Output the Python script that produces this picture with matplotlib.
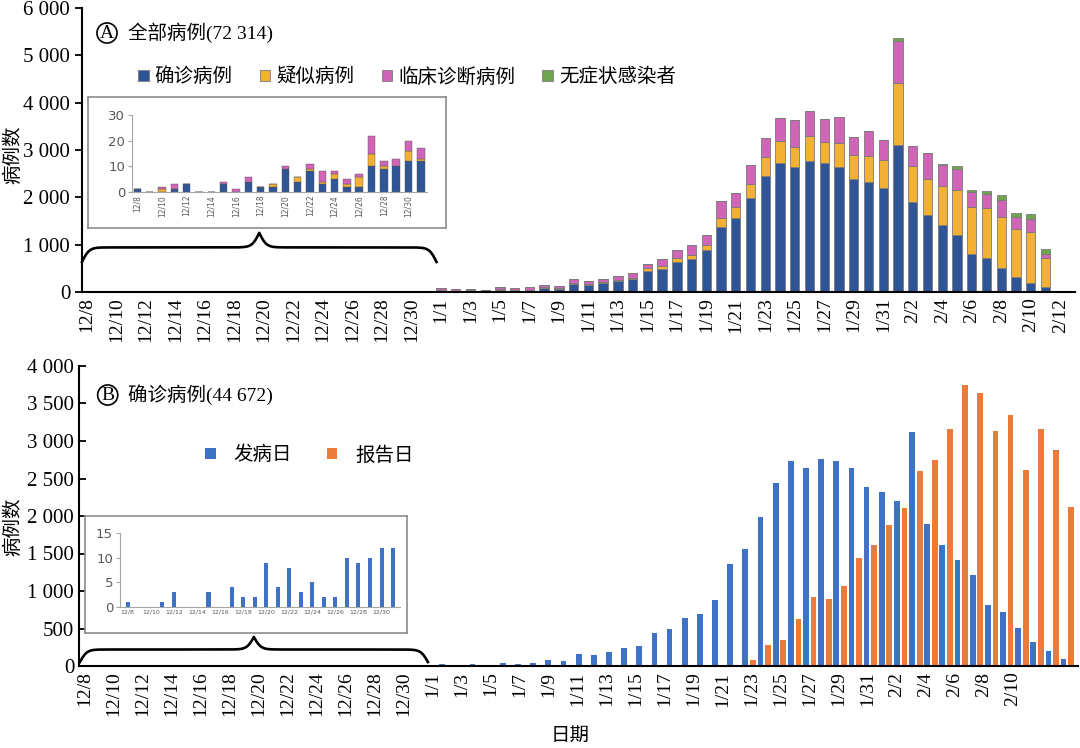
import matplotlib
matplotlib.use('Agg')
import matplotlib.pyplot as plt
import numpy as np
import pandas as pd

# dates 12/8 .. 2/12 (data runs to 2/11)
days = pd.date_range('2019-12-08', '2020-02-12')
day_labels = [f'{d.month}/{d.day}' for d in days]

# panel A: all cases by onset date
confirmed = [1, 0, 0, 1, 3, 0, 0, 3, 0, 4, 2, 2, 9, 4, 8, 3, 5, 2, 2, 10, 9, 10, 12, 12,
             27, 18, 27, 18, 44, 27, 40, 84, 71, 160, 147, 182, 235, 266, 435, 493, 644, 688, 880, 1363,
             1555, 1990, 2445, 2730, 2640, 2765, 2730, 2640, 2390, 2320, 2195,
             3115, 1900, 1620, 1410, 1210, 810, 720, 510, 325, 195, 98]
suspected = [0, 0, 1, 0, 0, 0, 0, 0, 0, 0, 0, 1, 0, 2, 1, 1, 2, 1, 4, 5, 1, 0, 4, 1,
             10, 8, 7, 5, 10, 8, 10, 12, 10, 20, 15, 20, 25, 40, 65, 64, 75, 90, 115, 205,
             235, 300, 410, 465, 425, 525, 440, 510, 495, 550, 590,
             1310, 765, 775, 825, 940, 980, 1055, 1075, 1015, 1075, 612]
clinical = [0, 0, 1, 2, 0, 0, 0, 1, 1, 2, 0, 0, 1, 0, 2, 4, 1, 2, 1, 7, 2, 3, 4, 4,
            53, 44, 36, 27, 46, 45, 50, 59, 54, 90, 68, 78, 80, 94, 100, 148, 161, 212, 215, 352,
            310, 400, 400, 485, 565, 540, 475, 545, 395, 530, 435,
            885, 430, 535, 455, 440, 320, 305, 365, 245, 280, 100]
asymptomatic = [0] * 55 + [60, 0, 0, 15, 70, 55, 55, 100, 85, 105, 90]

# panel B: confirmed cases, by onset date and by report date
onset = confirmed
reported = [0] * 42 + [5, 15,
                       80, 275, 345, 630, 925, 890, 1070, 1435, 1620, 1885, 2105,
                       2600, 2745, 3160, 3750, 3640, 3140, 3350, 2620, 3160, 2880, 2120]

C_BLUE, C_YEL, C_PINK, C_GRN = '#2F5597', '#F2B134', '#D065B8', '#70A44F'
B_BLUE, B_ORG = '#3D72C4', '#EC7A3A'

SERIF = ['Liberation Serif', 'Noto Sans CJK SC']
CJK = ['Noto Sans CJK SC', 'DejaVu Sans']

W, H = 1080, 748
fig = plt.figure(figsize=(W / 100, H / 100), dpi=100)


def px_axes(l, t, r, b):
    return fig.add_axes([l / W, 1 - b / H, (r - l) / W, (b - t) / H])


def brace(ax, x0, x1, y0, h):
    t = np.linspace(0, 0.5, 201)
    beta = 100
    yh = 1 / (1 + np.exp(-beta * (t - t[0]))) + 1 / (1 + np.exp(-beta * (t - t[-1])))
    yy = np.concatenate([yh, yh[-2::-1]]) - 0.5
    xx = np.linspace(x0, x1, len(yy))
    ax.plot(xx, y0 + yy * h, color='black', lw=1.9, clip_on=False, zorder=5)


def style_main(ax, direction):
    for s in ['top', 'right']:
        ax.spines[s].set_visible(False)
    for s in ['left', 'bottom']:
        ax.spines[s].set_linewidth(1.5)
    ax.tick_params(axis='x', length=0, pad=4)
    ax.tick_params(axis='y', length=5, width=1.3, direction=direction)


def thousands(v):
    return f'{v:,}'.replace(',', ' ')


# ---------------- panel A ----------------
axA = px_axes(82, 8, 1075, 292)
x = np.arange(len(confirmed))
bot = np.zeros(len(x))
for vals, col, lab in [(confirmed, C_BLUE, '确诊病例'), (suspected, C_YEL, '疑似病例'),
                       (clinical, C_PINK, '临床诊断病例'), (asymptomatic, C_GRN, '无症状感染者')]:
    axA.bar(x, vals, width=0.63, bottom=bot, color=col, edgecolor='#7a7a7a', linewidth=0.6, label=lab)
    bot += np.array(vals)

axA.set_xlim(-0.34, 67.0)
axA.set_ylim(0, 6000)
yt = np.arange(0, 6001, 1000)
axA.set_yticks(yt)
axA.set_yticklabels([thousands(v) for v in yt], family=SERIF, fontsize=15)
xt = np.arange(0, len(day_labels), 2)
axA.set_xticks(xt)
axA.set_xticklabels([day_labels[i] for i in xt], rotation=90, family=SERIF, fontsize=14)
style_main(axA, 'out')

axA.legend(loc='center left', bbox_to_anchor=(138 / W, 1 - 77 / H), bbox_transform=fig.transFigure,
           ncol=4, frameon=False, prop={'family': CJK, 'size': 14}, handlelength=0.55, handleheight=0.55,
           handletextpad=0.3, columnspacing=1.4, borderpad=0, borderaxespad=0)

fig.text(107 / W, 1 - 33 / H, 'A', ha='center', va='center', fontsize=14, family='Liberation Serif',
         bbox=dict(boxstyle='circle,pad=0.08', fc='none', ec='black', lw=1.2))
fig.text(128 / W, 1 - 33 / H, '全部病例(72 314)', ha='left', va='center', fontsize=14, family=SERIF)
fig.text(13 / W, 1 - 155 / H, '病例数', rotation=90, ha='center', va='center', fontsize=14, family=CJK)

brace(axA, -0.34, 23.7, 634, 616)

# inset A
boxA = px_axes(88, 97, 446, 228)
boxA.set_xticks([])
boxA.set_yticks([])
for s in boxA.spines.values():
    s.set_color('#8c8c8c')
    s.set_linewidth(1.2)
inA = px_axes(132, 115, 427, 192)
n_dec = 24
xi = np.arange(n_dec)
bi = np.zeros(n_dec)
for vals, col in [(confirmed, C_BLUE), (suspected, C_YEL), (clinical, C_PINK)]:
    v = np.array(vals[:n_dec])
    inA.bar(xi, v, width=0.6, bottom=bi, color=col, edgecolor='#555555', linewidth=0.3)
    bi += v
inA.set_xlim(-0.43, 23.5)
inA.set_ylim(0, 30)
inA.set_yticks([0, 10, 20, 30])
inA.set_yticklabels(['0', '10', '20', '30'], fontsize=9.5, color='#595959')
inA.set_xticks(xi[::2])
inA.set_xticklabels([day_labels[i] for i in xi[::2]], rotation=90, fontsize=5.5, color='#595959')
for s in ['top', 'right']:
    inA.spines[s].set_visible(False)
for s in ['left', 'bottom']:
    inA.spines[s].set_color('#a6a6a6')
inA.tick_params(axis='y', length=3, color='#a6a6a6', pad=2)
inA.tick_params(axis='x', length=0, pad=2)

# ---------------- panel B ----------------
axB = px_axes(79, 366, 1078, 666)
xb = np.arange(len(onset))
axB.bar(xb - 0.25, onset, width=0.38, color=B_BLUE, label='发病日')
axB.bar(xb + 0.25, reported, width=0.38, color=B_ORG, label='报告日')
axB.set_xlim(-0.22, 65.7)
axB.set_ylim(0, 4000)
ytb = np.arange(0, 4001, 500)
axB.set_yticks(ytb)
axB.set_yticklabels([thousands(v) for v in ytb], family=SERIF, fontsize=15)
label_step = 0.957  # labels in the source are slightly compressed relative to the bars
kb = np.arange(0, 65, 2)
axB.set_xticks(0.17 + label_step * kb)
axB.set_xticklabels([day_labels[i] for i in kb], rotation=90, family=SERIF, fontsize=14)
style_main(axB, 'in')

axB.legend(loc='center left', bbox_to_anchor=(205 / W, 1 - 455 / H), bbox_transform=fig.transFigure,
           ncol=2, frameon=False, prop={'family': CJK, 'size': 14}, handlelength=0.55, handleheight=0.55,
           handletextpad=0.9, columnspacing=1.8, borderpad=0, borderaxespad=0)

fig.text(107.7 / W, 1 - 395 / H, 'B', ha='center', va='center', fontsize=14, family='Liberation Serif',
         bbox=dict(boxstyle='circle,pad=0.08', fc='none', ec='black', lw=1.2))
fig.text(128 / W, 1 - 395 / H, '确诊病例(44 672)', ha='left', va='center', fontsize=14, family=SERIF)
fig.text(13 / W, 1 - 527 / H, '病例数', rotation=90, ha='center', va='center', fontsize=14, family=CJK)
fig.text(570 / W, 1 - 735 / H, '日期', ha='center', va='center', fontsize=14, family=CJK)

brace(axB, -0.16, 22.8, 53, 334)

# inset B
boxB = px_axes(85, 516, 407, 633)
boxB.set_xticks([])
boxB.set_yticks([])
for s in boxB.spines.values():
    s.set_color('#8c8c8c')
    s.set_linewidth(1.2)
inB = px_axes(120, 533, 400, 607)
inB.bar(xi, onset[:n_dec], width=0.35, color=B_BLUE)
inB.set_xlim(-0.67, 23.6)
inB.set_ylim(0, 15)
inB.set_yticks([0, 5, 10, 15])
inB.set_yticklabels(['0', '5', '10', '15'], fontsize=9.5, color='#595959')
inB.set_xticks(xi[::2])
inB.set_xticklabels([day_labels[i] for i in xi[::2]], fontsize=4.5, color='#595959')
for s in ['top', 'right']:
    inB.spines[s].set_visible(False)
for s in ['left', 'bottom']:
    inB.spines[s].set_color('#a6a6a6')
inB.tick_params(axis='y', length=3, color='#a6a6a6', pad=2)
inB.tick_params(axis='x', length=0, pad=2)

fig.savefig('out.png', dpi=100)
